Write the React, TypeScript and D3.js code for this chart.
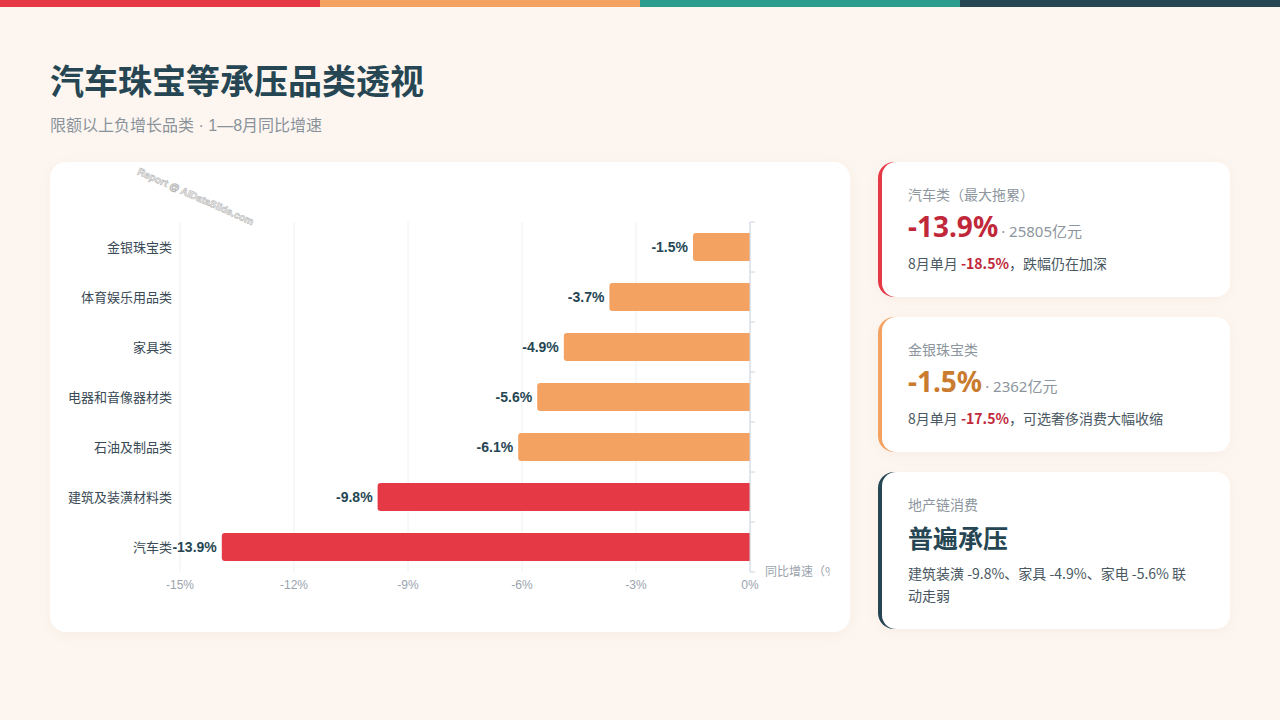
import * as d3 from 'd3'

// chart data
const categories = ['金银珠宝类', '体育娱乐用品类', '家具类', '电器和音像器材类', '石油及制品类', '建筑及装潢材料类', '汽车类']
const growth = [-1.5, -3.7, -4.9, -5.6, -6.1, -9.8, -13.9]
const xTicks = [-15, -12, -9, -6, -3, 0]
const severeThreshold = -9

// side cards
const cardLabels = ['汽车类（最大拖累）', '金银珠宝类', '地产链消费']
const cardValues = ['-13.9%', '-1.5%', '普遍承压']
const cardAmounts = ['25805亿元', '2362亿元', '']
const cardMonthly = ['-18.5%', '-17.5%', '']
const cardNotes = ['，跌幅仍在加深', '，可选奢侈消费大幅收缩', '']
const cardLines = ['建筑装潢 -9.8%、家具 -4.9%、家电 -5.6% 联', '动走弱']

const stripeColors = ['#e63946', '#f4a261', '#2a9d8f', '#264653']
const RED = '#e63946'
const ORANGE = '#f4a261'
const DARK = '#264653'
const CJK = '"Noto Sans CJK SC", "Noto Sans", sans-serif'
const LATIN = '"Liberation Sans", "Noto Sans CJK SC", sans-serif'

export default function App() {
  const x = d3.scaleLinear().domain([-15, 0]).range([180, 750])
  const y = d3.scaleBand<string>().domain(categories).range([222, 572]).paddingInner(0.44).paddingOuter(0.22)
  const bw = y.bandwidth()

  const barPath = (v: number, cat: string) => {
    const x0 = x(v)
    const x1 = x(0)
    const y0 = y(cat) as number
    const r = 3
    return `M${x1},${y0} L${x0 + r},${y0} Q${x0},${y0} ${x0},${y0 + r} L${x0},${y0 + bw - r} Q${x0},${y0 + bw} ${x0 + r},${y0 + bw} L${x1},${y0 + bw} Z`
  }

  const boundaries = d3.range(categories.length + 1).map(i => 222 + i * y.step())

  const cards = [
    { y: 162, h: 135, color: RED, valueColor: '#c0283a' },
    { y: 317, h: 135, color: ORANGE, valueColor: '#c97b30' },
    { y: 472, h: 157, color: DARK, valueColor: DARK },
  ]

  return (
    <div style={{ position: 'absolute', left: 0, top: 0, width: 1280, height: 720 }}>
      <svg width={1280} height={720} style={{ display: 'block' }}>
        <defs>
          <filter id="shadow" x="-10%" y="-10%" width="120%" height="130%">
            <feDropShadow dx="0" dy="3" stdDeviation="6" floodColor="#b08060" floodOpacity="0.08" />
          </filter>
          <clipPath id="plotClip">
            <rect x={50} y={162} width={780} height={470} />
          </clipPath>
          {cards.map((cd, i) => (
            <clipPath key={i} id={`edge${i}`}>
              <rect x={870} y={cd.y - 2} width={40} height={cd.h + 4} />
            </clipPath>
          ))}
        </defs>
        <rect width={1280} height={720} fill="#fdf6f0" />
        {stripeColors.map((c, i) => (
          <rect key={c} x={i * 320} y={0} width={320} height={7} fill={c} />
        ))}

        <text x={50} y={94} fontFamily={CJK} fontSize={34} fontWeight={700} fill={DARK}>汽车珠宝等承压品类透视</text>
        <text x={50} y={131} fontFamily={CJK} fontSize={16} fill="#8a939b">
          <tspan>限额以上负增长品类</tspan>
          <tspan fontFamily={LATIN}> · 1—8</tspan>
          <tspan>月同比增速</tspan>
        </text>

        {/* chart card */}
        <rect x={50} y={162} width={800} height={470} rx={16} fill="#fff" filter="url(#shadow)" />
        <text
          x={196}
          y={200}
          transform="rotate(24 196 196)"
          textAnchor="middle"
          fontFamily={LATIN}
          fontSize={10}
          fontWeight={700}
          fill="#f2f2f2"
          stroke="#b8b8b8"
          strokeWidth={0.6}
        >Report @ AIDataSlide.com</text>

        <g>
          {xTicks.map(t => (
            <line key={t} x1={x(t)} x2={x(t)} y1={222} y2={572} stroke="#edf0f4" strokeWidth={1} />
          ))}
          {categories.map((c, i) => (
            <path key={c} d={barPath(growth[i], c)} fill={growth[i] <= severeThreshold ? RED : ORANGE} />
          ))}
          <line x1={x(0)} x2={x(0)} y1={222} y2={572} stroke="#cbd6e2" strokeWidth={1} />
          {boundaries.map(b => (
            <line key={b} x1={x(0)} x2={x(0) + 5} y1={b} y2={b} stroke="#cbd6e2" strokeWidth={1} />
          ))}
          {categories.map((c, i) => (
            <text
              key={c}
              x={172}
              y={(y(c) as number) + bw / 2}
              dy="0.35em"
              textAnchor="end"
              fontFamily={CJK}
              fontSize={13}
              fill="#3a4a56"
            >{c}</text>
          ))}
          {categories.map((c, i) => (
            <text
              key={c}
              x={x(growth[i]) - 5}
              y={(y(c) as number) + bw / 2}
              dy="0.35em"
              textAnchor="end"
              fontFamily={LATIN}
              fontSize={14}
              fontWeight={700}
              fill={DARK}
            >{growth[i].toFixed(1)}%</text>
          ))}
          {xTicks.map(t => (
            <text key={t} x={x(t)} y={589} textAnchor="middle" fontFamily={LATIN} fontSize={12} fill="#9aa3ad">{t}%</text>
          ))}
          <g clipPath="url(#plotClip)">
            <text x={765} y={576} fontFamily={CJK} fontSize={12} fill="#9aa3ad">同比增速（%）</text>
          </g>
        </g>

        {/* side cards */}
        {cards.map((cd, i) => (
          <g key={i}>
            <rect x={878} y={cd.y} width={352} height={cd.h} rx={16} fill="#fff" filter="url(#shadow)" />
            <rect x={878} y={cd.y} width={352} height={cd.h} rx={16} fill={cd.color} clipPath={`url(#edge${i})`} />
            <rect x={882} y={cd.y} width={348} height={cd.h} rx={14} fill="#fff" />
            <text x={908} y={cd.y + 38} fontFamily={CJK} fontSize={14} fill="#8d969e">{cardLabels[i]}</text>
          </g>
        ))}
        {[0, 1].map(i => (
          <g key={i}>
            <text x={908} y={cards[i].y + 75} fontFamily={'"Noto Sans", "Open Sans", sans-serif'}>
              <tspan fontSize={28} fontWeight={700} fill={cards[i].valueColor}>{cardValues[i]}</tspan>
              <tspan dx={3} fontSize={15} fill="#8d969e">· {cardAmounts[i].replace('亿元', '')}</tspan>
              <tspan fontSize={15} fill="#8d969e" fontFamily={CJK}>亿元</tspan>
            </text>
            <text x={908} y={cards[i].y + 107} fontFamily={CJK} fontSize={14} fill="#4a5862">
              <tspan>8月单月 </tspan>
              <tspan fontWeight={700} fill="#c0283a">{cardMonthly[i]}</tspan>
              <tspan>{cardNotes[i]}</tspan>
            </text>
          </g>
        ))}
        <text x={908} y={cards[2].y + 76} fontFamily={CJK} fontSize={25} fontWeight={700} fill={DARK}>{cardValues[2]}</text>
        {cardLines.map((l, j) => (
          <text key={j} x={908} y={cards[2].y + 107 + j * 22} fontFamily={CJK} fontSize={14} fill="#4a5862">{l}</text>
        ))}
      </svg>
    </div>
  )
}
